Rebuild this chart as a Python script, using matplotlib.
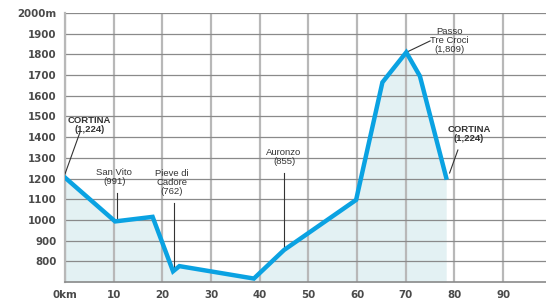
import matplotlib.pyplot as plt
import numpy as np

# elevation profile (km, metres)
km = [0, 10.3, 18.0, 22.2, 23.5, 38.8, 45.0, 59.8, 65.2, 70.1, 72.9, 78.3]
elev = [1205, 993, 1015, 752, 777, 717, 855, 1097, 1665, 1810, 1695, 1205]

# place labels
place_names = ['CORTINA\n(1,224)', 'San Vito\n(991)', 'Pieve di\nCadore\n(762)',
               'Auronzo\n(855)', 'Passo\nTre Croci\n(1,809)', 'CORTINA\n(1,224)']
place_bold = [True, False, False, False, False, True]
text_pos = [(5.1, 1459), (10.1, 1207), (22.0, 1183), (45.0, 1304), (79.0, 1865), (83.0, 1415)]
leader_from = [(3.1, 1425), (10.7, 1132), (22.4, 1080), (45.0, 1225), (75.0, 1865), (80.7, 1338)]
leader_to = [(0.0, 1222), (10.7, 1005), (22.4, 765), (45.0, 858), (70.3, 1812), (79.0, 1227)]

x_ticks = [0, 10, 20, 30, 40, 50, 60, 70, 80, 90]
x_labels = ['0km'] + [str(t) for t in x_ticks[1:]]
y_ticks = list(range(800, 2001, 100))
y_labels = [str(t) for t in y_ticks[:-1]] + ['2000m']

fig = plt.figure(figsize=(5.46, 3.02), dpi=100)
ax = fig.add_axes([0.119, 0.066, 0.881, 0.891])
plt.rcParams['font.family'] = ['Liberation Sans', 'DejaVu Sans']

ax.fill_between(km, elev, 700, color='#e3f1f3', zorder=1, linewidth=0)

for x in x_ticks:
    ax.axvline(x, color='#b8b8b8', linewidth=1.6, zorder=2)
for y in y_ticks:
    ax.axhline(y, color='#8a8a8a', linewidth=0.9, zorder=2)

ax.plot(km, elev, color='#0aa2e2', linewidth=3.2, solid_joinstyle='miter', zorder=4)

for name, bold, (tx, ty), (x0, y0), (x1, y1) in zip(place_names, place_bold, text_pos, leader_from, leader_to):
    ax.plot([x0, x1], [y0, y1], color='#333333', linewidth=0.8, zorder=3)
    ax.text(tx, ty, name, ha='center', va='center', fontsize=6.8, color='#333333',
            fontweight='bold' if bold else 'normal', linespacing=1.0, zorder=5)

ax.set_xlim(0, 98.8)
ax.set_ylim(700, 2000)
ax.set_xticks(x_ticks)
ax.set_xticklabels(x_labels)
ax.set_yticks(y_ticks)
ax.set_yticklabels(y_labels)
ax.tick_params(length=0, labelsize=7.4, labelcolor='#4a4a4a', pad=6)
for lab in ax.get_xticklabels() + ax.get_yticklabels():
    lab.set_fontweight('bold')

for side in ['top', 'right']:
    ax.spines[side].set_visible(False)
ax.spines['left'].set_color('#b8b8b8')
ax.spines['left'].set_linewidth(1.6)
ax.spines['bottom'].set_color('#8a8a8a')
ax.spines['bottom'].set_linewidth(1.2)

plt.savefig('out.png', dpi=100)
